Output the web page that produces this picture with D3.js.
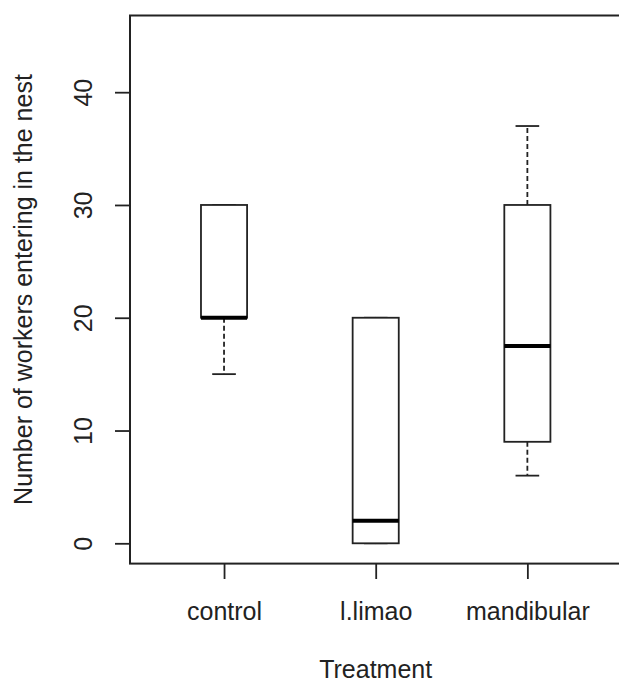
<html>
<head>
<title>Workers entering the nest</title>
<script src="https://cdn.jsdelivr.net/npm/d3@7"></script>
<style>
    body { margin: 0; background: #fff; }
    text { font-family: Arial, "Liberation Sans", sans-serif; fill: #222; }
</style>
</head>
<body>
    <div id="chart"></div>

    <script type="text/javascript">
        // data
        var categories = ["control", "l.limao", "mandibular"];
        var lowerWhisker = [15, 0, 6];
        var lowerQuartile = [20, 0, 9];
        var medians = [20, 2, 17.5];
        var upperQuartile = [30, 20, 30];
        var upperWhisker = [30, 20, 37];
        var yTicks = [0, 10, 20, 30, 40];

        var width = 619, height = 684;

        var svg = d3.select("#chart").append("svg")
            .attr("width", width)
            .attr("height", height);

        svg.append("rect")
            .attr("width", width)
            .attr("height", height)
            .attr("fill", "#fff");

        // R style ranges (4% padding on both sides)
        var x = d3.scaleLinear().domain([0.38, 3.62]).range([130, 621.4]);
        var y = d3.scaleLinear().domain([-1.8, 46.8]).range([563.6, 15.5]);

        var boxHalf = 0.152, capHalf = 0.078;
        var ink = "#222";
        var lw = 1.8;
        var fontSize = "25px";

        var boxes = categories.map(function(c, i) {
            return {name: c, pos: i + 1, lo: lowerWhisker[i], q1: lowerQuartile[i],
                    med: medians[i], q3: upperQuartile[i], hi: upperWhisker[i]};
        });

        var g = svg.selectAll(".box")
            .data(boxes)
            .enter()
            .append("g")
            .attr("class", "box");

        // whiskers (dashed)
        g.append("line")
            .attr("x1", function(d) { return x(d.pos); })
            .attr("x2", function(d) { return x(d.pos); })
            .attr("y1", function(d) { return y(d.q3); })
            .attr("y2", function(d) { return y(d.hi); })
            .attr("stroke", ink).attr("stroke-width", lw)
            .attr("stroke-dasharray", "5,3");
        g.append("line")
            .attr("x1", function(d) { return x(d.pos); })
            .attr("x2", function(d) { return x(d.pos); })
            .attr("y1", function(d) { return y(d.q1); })
            .attr("y2", function(d) { return y(d.lo); })
            .attr("stroke", ink).attr("stroke-width", lw)
            .attr("stroke-dasharray", "5,3");

        // staples
        ["lo", "hi"].forEach(function(k) {
            g.append("line")
                .attr("x1", function(d) { return x(d.pos - capHalf); })
                .attr("x2", function(d) { return x(d.pos + capHalf); })
                .attr("y1", function(d) { return y(d[k]); })
                .attr("y2", function(d) { return y(d[k]); })
                .attr("stroke", ink).attr("stroke-width", lw);
        });

        // boxes
        g.append("rect")
            .attr("x", function(d) { return x(d.pos - boxHalf); })
            .attr("width", function(d) { return x(d.pos + boxHalf) - x(d.pos - boxHalf); })
            .attr("y", function(d) { return y(d.q3); })
            .attr("height", function(d) { return y(d.q1) - y(d.q3); })
            .attr("fill", "#fff")
            .attr("stroke", ink).attr("stroke-width", lw);

        // medians
        g.append("line")
            .attr("x1", function(d) { return x(d.pos - boxHalf); })
            .attr("x2", function(d) { return x(d.pos + boxHalf); })
            .attr("y1", function(d) { return y(d.med); })
            .attr("y2", function(d) { return y(d.med); })
            .attr("stroke", "#000").attr("stroke-width", 4);

        // Y axis
        var yAxis = svg.append("g")
            .attr("transform", "translate(130,0)")
            .call(d3.axisLeft(y).tickValues(yTicks).tickSize(15));
        yAxis.select(".domain").remove();
        yAxis.selectAll("line").attr("stroke", ink).attr("stroke-width", lw);
        yAxis.selectAll("text")
            .attr("x", 0).attr("y", 0).attr("dy", 0)
            .attr("transform", "translate(-38,0) rotate(-90)")
            .attr("text-anchor", "middle")
            .style("font-size", fontSize)
            .attr("fill", ink);

        // X axis
        var xAxis = svg.append("g")
            .attr("transform", "translate(0,564)")
            .call(d3.axisBottom(x).tickValues([1, 2, 3]).tickSize(15)
                .tickFormat(function(d) { return categories[d - 1]; }));
        xAxis.select(".domain").remove();
        xAxis.selectAll("line").attr("stroke", ink).attr("stroke-width", lw);
        xAxis.selectAll("text")
            .attr("y", 56).attr("dy", 0)
            .style("font-size", fontSize)
            .attr("fill", ink);

        // frame round the plot
        svg.append("rect")
            .attr("x", x.range()[0])
            .attr("y", y.range()[1])
            .attr("width", x.range()[1] - x.range()[0])
            .attr("height", y.range()[0] - y.range()[1])
            .attr("fill", "none")
            .attr("stroke", ink).attr("stroke-width", 2);

        // axis titles
        svg.append("text")
            .attr("x", (x.range()[0] + x.range()[1]) / 2)
            .attr("y", 678)
            .attr("text-anchor", "middle")
            .style("font-size", fontSize)
            .text("Treatment");

        svg.append("text")
            .attr("transform", "translate(32," + ((y.range()[0] + y.range()[1]) / 2) + ") rotate(-90)")
            .attr("text-anchor", "middle")
            .style("font-size", fontSize)
            .text("Number of workers entering in the nest");
    </script>
</body>
</html>
